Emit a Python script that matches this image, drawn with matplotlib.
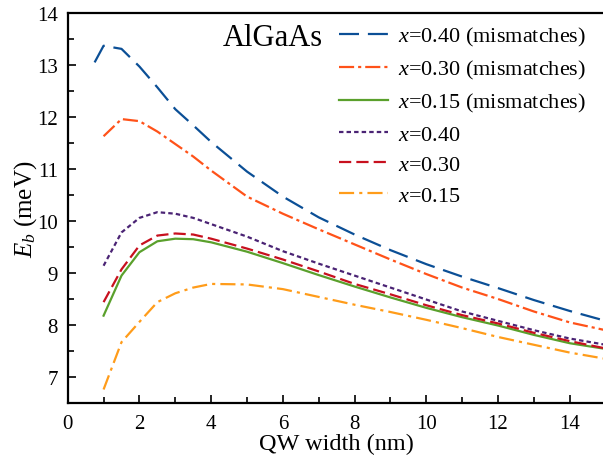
import matplotlib
matplotlib.use('Agg')
import matplotlib.pyplot as plt
from matplotlib.ticker import MultipleLocator

plt.rcParams['font.family'] = 'Liberation Serif'
plt.rcParams['mathtext.fontset'] = 'custom'
plt.rcParams['mathtext.rm'] = 'Liberation Serif'
plt.rcParams['mathtext.it'] = 'Liberation Serif:italic'

# QW width (nm)
w_first = [0.75, 1, 1.5, 2, 2.5, 3, 3.5, 4, 5, 6, 7, 8, 9, 10, 11, 12, 13, 14, 15]
w = [1, 1.5, 2, 2.5, 3, 3.5, 4, 5, 6, 7, 8, 9, 10, 11, 12, 13, 14, 15]

# binding energies (meV)
eb_40_mis = [13.05, 13.37, 13.31, 12.97, 12.57, 12.15, 11.84, 11.52, 10.95, 10.47,
             10.07, 9.74, 9.44, 9.17, 8.93, 8.71, 8.48, 8.27, 8.08]
eb_30_mis = [11.63, 11.96, 11.92, 11.72, 11.48, 11.24, 10.97, 10.47, 10.14, 9.84,
             9.55, 9.26, 8.98, 8.72, 8.50, 8.26, 8.05, 7.90]
eb_15_mis = [8.18, 8.95, 9.40, 9.61, 9.66, 9.65, 9.59, 9.41, 9.19, 8.96,
             8.74, 8.53, 8.33, 8.15, 7.99, 7.81, 7.65, 7.54]
eb_40 = [9.14, 9.78, 10.06, 10.17, 10.14, 10.06, 9.94, 9.70, 9.42, 9.18,
         8.95, 8.72, 8.49, 8.26, 8.08, 7.90, 7.74, 7.62]
eb_30 = [8.44, 9.07, 9.53, 9.72, 9.76, 9.74, 9.66, 9.47, 9.26, 9.03,
         8.79, 8.59, 8.38, 8.19, 8.03, 7.85, 7.69, 7.55]
eb_15 = [6.76, 7.67, 8.06, 8.44, 8.61, 8.72, 8.79, 8.78, 8.69, 8.54,
         8.39, 8.25, 8.10, 7.94, 7.77, 7.62, 7.47, 7.35]

fig = plt.figure(figsize=(6.03, 4.60), dpi=100)
ax = fig.add_axes([0.1123, 0.1217, 0.892, 0.8479])

lw = 1.6
ax.plot(w_first, eb_40_mis, color='#0b4f96', lw=lw, dashes=(9, 4),
        label=r'$x$=0.40 (mismatches)')
ax.plot(w, eb_30_mis, color='#ff5219', lw=lw, dashes=(6.8, 1.8, 1.4, 1.8),
        label=r'$x$=0.30 (mismatches)')
ax.plot(w, eb_15_mis, color='#5aa02c', lw=lw,
        label=r'$x$=0.15 (mismatches)')
ax.plot(w, eb_40, color='#4a2374', lw=lw, dashes=(2, 1.4),
        label=r'$x$=0.40')
ax.plot(w, eb_30, color='#c8101e', lw=lw, dashes=(5.5, 2.3),
        label=r'$x$=0.30')
ax.plot(w, eb_15, color='#ff9c1a', lw=lw, dashes=(6.8, 2.3, 1.4, 2.3),
        label=r'$x$=0.15')

ax.set_xlim(0, 15)
ax.set_ylim(6.5, 14)
ax.xaxis.set_major_locator(MultipleLocator(2))
ax.xaxis.set_minor_locator(MultipleLocator(1))
ax.yaxis.set_major_locator(MultipleLocator(1))
ax.yaxis.set_minor_locator(MultipleLocator(0.5))
ax.tick_params(which='both', direction='in', labelsize=15, width=1.2)
ax.tick_params(which='major', length=6, pad=7)
ax.tick_params(axis='x', which='major', pad=8)
ax.tick_params(which='minor', length=4)
for s in ax.spines.values():
    s.set_linewidth(1.6)

ax.set_xlabel('QW width (nm)', fontsize=17.5, labelpad=0)
ax.set_ylabel(r'$E_b$ (meV)', fontsize=18, labelpad=-1)

ax.text(0.289, 0.937, 'AlGaAs', transform=ax.transAxes, fontsize=22,
        ha='left', va='center')
ax.legend(loc='upper left', bbox_to_anchor=(339 / 603, 1 - 26 / 460),
          bbox_transform=fig.transFigure, frameon=False,
          fontsize=16, handlelength=2.2, handletextpad=0.45, labelspacing=0.45,
          borderpad=0, borderaxespad=0)

plt.savefig('out.png', dpi=100)
